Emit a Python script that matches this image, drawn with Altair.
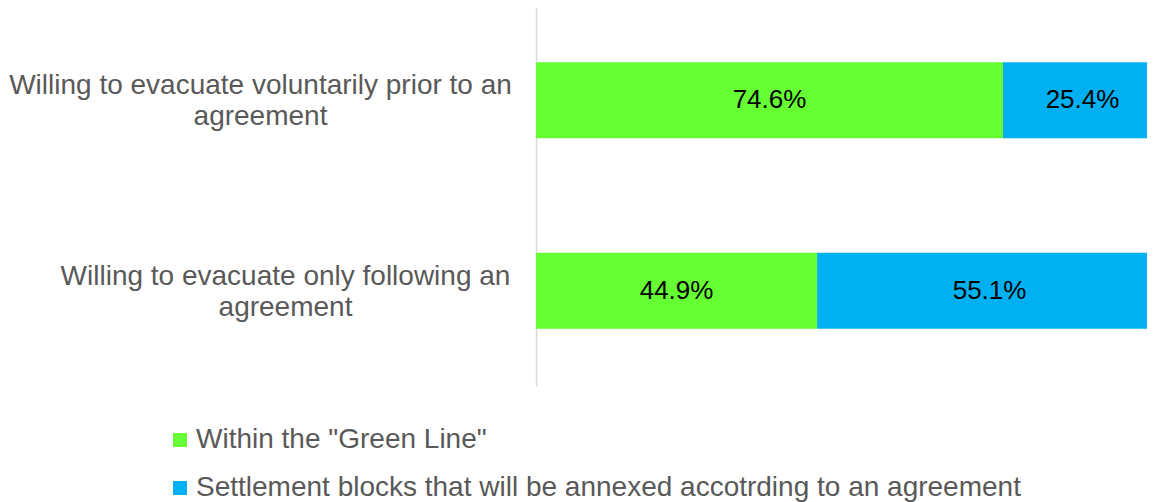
import altair as alt
import pandas as pd

categories = [
    "Willing to evacuate voluntarily prior to an agreement",
    "Willing to evacuate only following an agreement",
]
series = [
    'Within the "Green Line"',
    "Settlement blocks that will be annexed accotrding to an agreement",
]
green_values = [74.6, 44.9]
blue_values = [25.4, 55.1]
colors = ["#66FF33", "#00B0F0"]

rows = []
for i, c in enumerate(categories):
    rows.append({"category": c, "series": series[0], "value": green_values[i], "order": 0})
    rows.append({"category": c, "series": series[1], "value": blue_values[i], "order": 1})
df = pd.DataFrame(rows)

FONT = "Liberation Sans"

y_enc = alt.Y(
    "category:N",
    sort=categories,
    scale=alt.Scale(paddingInner=0.6, paddingOuter=0.3),
    axis=alt.Axis(
        title=None,
        ticks=False,
        grid=False,
        domain=True,
        domainColor="#D9D9D9",
        domainWidth=1.5,
        labelFont=FONT,
        labelFontSize=28,
        labelColor="#595959",
        labelAlign="center",
        labelBaseline="middle",
        labelLineHeight=31,
        labelOffset=-14,
        labelLimit=0,
        labelExpr="[slice(datum.label, 0, -10), 'agreement']",
        labelPadding={
            "condition": {"test": "indexof(datum.label, 'voluntarily') >= 0", "value": 276},
            "value": 251,
        },
    ),
)

# the reference's plot area runs past the right edge of the picture
x_scale = alt.Scale(domain=[0, 0.976], nice=False, zero=True)

base = alt.Chart(df).transform_stack(
    stack="value",
    groupby=["category"],
    as_=["x0", "x1"],
    sort=[alt.SortField("order", order="ascending")],
    offset="normalize",
).transform_calculate(
    mid="(datum.x0 + datum.x1) / 2",
    label="format(datum.value, '.1f') + '%'",
)

bars = base.mark_bar(clip=True).encode(
    x=alt.X("x0:Q", scale=x_scale, axis=None),
    x2="x1:Q",
    y=y_enc,
    color=alt.Color(
        "series:N",
        sort=series,
        scale=alt.Scale(domain=series, range=colors),
        legend=alt.Legend(
            title=None,
            orient="none",
            direction="vertical",
            legendX=-370,
            legendY=421,
            labelFont=FONT,
            labelFontSize=28,
            labelColor="#595959",
            labelLimit=0,
            labelOffset=2,
            symbolType="square",
            symbolSize=196,
            symbolStrokeWidth=0,
            rowPadding=20,
        ),
    ),
)

texts = base.mark_text(font=FONT, fontSize=26, color="black").encode(
    x=alt.X("mid:Q", scale=x_scale, axis=None),
    y=alt.Y("category:N", sort=categories),
    text="label:N",
)

chart = alt.layer(bars, texts).properties(
    width=611,
    height=381,
    padding={"left": 528, "top": -3, "right": 0, "bottom": 116},
    autosize=alt.AutoSizeParams(type="none"),
).configure_view(stroke=None)

chart.save("out.html", embed_options={"renderer": "svg", "actions": False})
